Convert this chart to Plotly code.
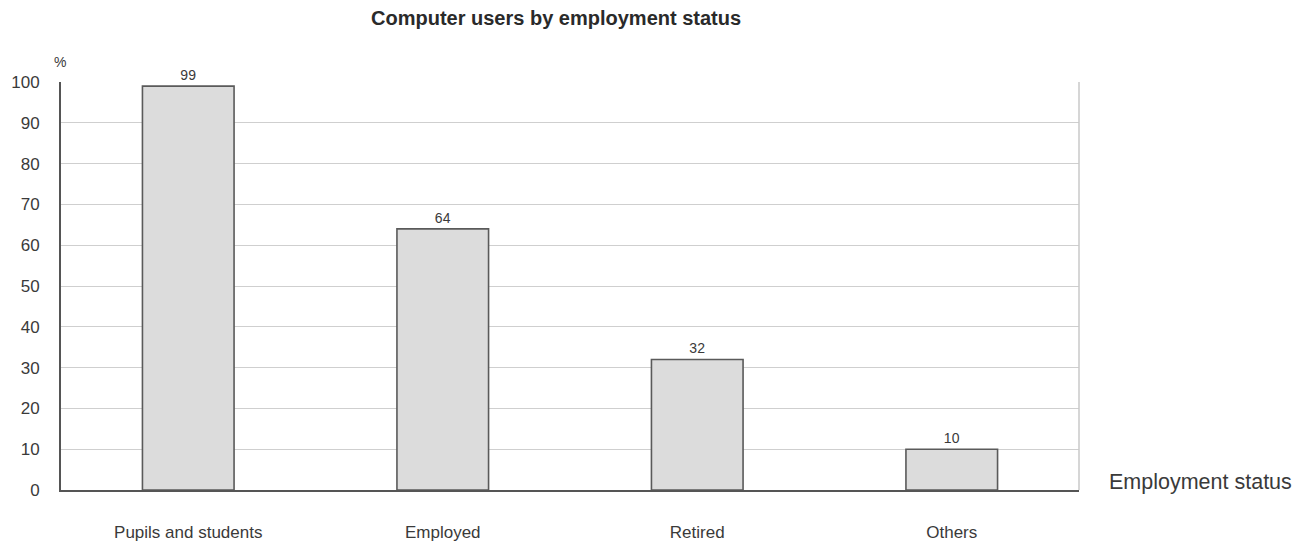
import plotly.graph_objects as go

# Share of computer users in each employment group (%)
categories = ["Pupils and students", "Employed", "Retired", "Others"]
values = [99, 64, 32, 10]
y_ticks = [0, 10, 20, 30, 40, 50, 60, 70, 80, 90, 100]

FONT = "Liberation Sans, Arial, sans-serif"
TEXT = "#3a3a3a"

fig = go.Figure()
fig.add_trace(go.Bar(
    x=categories,
    y=values,
    width=0.36,
    marker=dict(color="#dcdcdc", line=dict(color="#5a5a5a", width=1.6)),
    text=[str(v) for v in values],
    textposition="outside",
    textfont=dict(family=FONT, size=14, color=TEXT),
    cliponaxis=False,
    hoverinfo="skip",
))

fig.update_layout(
    width=1294, height=546,
    margin=dict(l=61, r=215, t=82, b=56),
    paper_bgcolor="white", plot_bgcolor="white",
    showlegend=False,
    font=dict(family=FONT, color=TEXT),
    xaxis=dict(
        range=[-0.5, 3.5],
        automargin=False,
        showgrid=False,
        showline=True, linecolor="#555555", linewidth=2,
        ticks="", ticklabelstandoff=26,
        tickfont=dict(family=FONT, size=17, color=TEXT),
    ),
    yaxis=dict(
        range=[0, 100],
        automargin=False,
        tickvals=y_ticks,
        showgrid=True, gridcolor="#cfcfcf", gridwidth=1,
        showline=True, linecolor="#555555", linewidth=2,
        zeroline=False,
        ticks="", ticklabelstandoff=16,
        tickfont=dict(family=FONT, size=17, color=TEXT),
    ),
    shapes=[dict(type="line", xref="paper", yref="paper",
                 x0=1, x1=1, y0=0, y1=1,
                 line=dict(color="#c8c8c8", width=1.5))],
    annotations=[
        dict(text="<b>Computer users by employment status</b>",
             xref="paper", yref="paper", x=0.486, y=1,
             yshift=64, xanchor="center", yanchor="middle",
             showarrow=False, font=dict(family=FONT, size=20, color="#2a2a2a")),
        dict(text="%", xref="paper", yref="paper", x=0, y=1,
             xshift=-1, yshift=20, xanchor="center", yanchor="middle",
             showarrow=False, font=dict(family=FONT, size=14, color=TEXT)),
        dict(text="Employment status", xref="paper", yref="paper", x=1, y=0,
             xshift=28, yshift=8, xanchor="left", yanchor="middle",
             showarrow=False, font=dict(family=FONT, size=21.5, color=TEXT)),
    ],
)

fig.write_html("out.html")
